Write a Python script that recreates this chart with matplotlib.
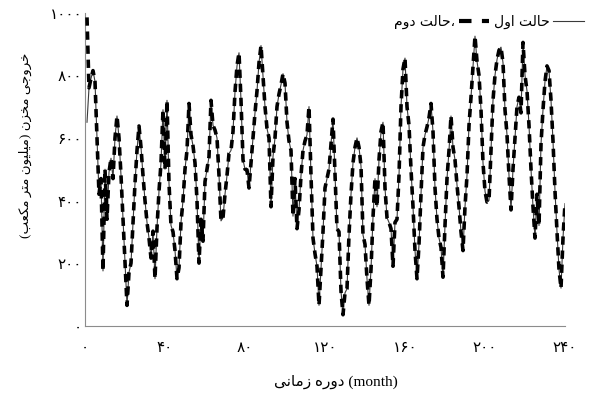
import matplotlib
matplotlib.use("Agg")
import matplotlib.pyplot as plt
import numpy as np
from matplotlib.lines import Line2D

plt.rcParams["font.family"] = ["DejaVu Sans"]

# monthly reservoir release (million m3), months 1..240
months = np.arange(1, 241)
case1 = [
    650, 760, 790, 815, 780, 600, 420, 470, 175, 500, 340, 490,
    535, 470, 600, 670, 600, 480, 340, 200, 65, 170, 200, 330,
    455, 560, 638, 570, 480, 400, 330, 280, 216, 302, 150, 313,
    430, 520, 690, 500, 720, 455, 320, 300, 240, 150, 185, 330,
    400, 500, 560, 710, 610, 575, 520, 400, 200, 340, 270, 460,
    500, 540, 720, 640, 625, 600, 480, 335, 345, 420, 480, 550,
    560, 620, 747, 830, 872, 720, 530, 500, 498, 440, 520, 600,
    680, 750, 840, 895, 800, 700, 630, 600, 380, 540, 600, 700,
    740, 770, 805, 775, 650, 590, 560, 350, 470, 310, 370, 480,
    560, 590, 610, 700, 480, 280, 230, 190, 65, 180, 300, 440,
    470, 500, 580, 660, 480, 310, 300, 110, 35, 105, 118, 290,
    420, 520, 570, 600, 570, 510, 290, 260, 150, 65, 180, 346,
    470, 380, 530, 620, 650, 440, 345, 330, 310, 190, 330, 340,
    480, 700, 820, 855, 700, 640, 500, 380, 240, 150, 260, 420,
    570, 610, 635, 665, 710, 620, 440, 340, 280, 250, 155, 320,
    470, 560, 670, 570, 530, 450, 380, 300, 240, 380, 480, 640,
    730, 830, 925, 845, 800, 690, 520, 430, 395, 400, 560, 720,
    800, 850, 880, 890, 840, 690, 610, 480, 370, 500, 600, 700,
    730, 680, 905, 800, 750, 640, 500, 380, 280, 420, 320, 580,
    690, 780, 830, 815, 720, 590, 430, 300, 180, 120, 280, 390,
]
# second case follows the first except for the opening month
case2 = list(case1)
case2[0] = 985

x_ticks = [0, 40, 80, 120, 160, 200, 240]
y_ticks = [0, 200, 400, 600, 800, 1000]

# contextual forms: isolated, final, initial, medial (None for right-joining letters)
FORMS = {
    "ا": ("\uFE8D", "\uFE8E", None, None),
    "ب": ("\uFE8F", "\uFE90", "\uFE91", "\uFE92"),
    "ت": ("\uFE95", "\uFE96", "\uFE97", "\uFE98"),
    "ج": ("\uFE9D", "\uFE9E", "\uFE9F", "\uFEA0"),
    "ح": ("\uFEA1", "\uFEA2", "\uFEA3", "\uFEA4"),
    "خ": ("\uFEA5", "\uFEA6", "\uFEA7", "\uFEA8"),
    "د": ("\uFEA9", "\uFEAA", None, None),
    "ر": ("\uFEAD", "\uFEAE", None, None),
    "ز": ("\uFEAF", "\uFEB0", None, None),
    "ع": ("\uFEC9", "\uFECA", "\uFECB", "\uFECC"),
    "ل": ("\uFEDD", "\uFEDE", "\uFEDF", "\uFEE0"),
    "م": ("\uFEE1", "\uFEE2", "\uFEE3", "\uFEE4"),
    "ن": ("\uFEE5", "\uFEE6", "\uFEE7", "\uFEE8"),
    "ه": ("\uFEE9", "\uFEEA", "\uFEEB", "\uFEEC"),
    "و": ("\uFEED", "\uFEEE", None, None),
    "ی": ("\uFBFC", "\uFBFD", "\uFBFE", "\uFBFF"),
    "ک": ("\uFB8E", "\uFB8F", "\uFB90", "\uFB91"),
}


def shape(text):
    out = []
    for i, ch in enumerate(text):
        forms = FORMS.get(ch)
        if forms is None:
            out.append(ch)
            continue
        prev = FORMS.get(text[i - 1]) if i > 0 else None
        nxt = FORMS.get(text[i + 1]) if i + 1 < len(text) else None
        join_prev = prev is not None and prev[2] is not None
        join_next = nxt is not None and forms[2] is not None
        if join_prev and join_next:
            out.append(forms[3])
        elif join_prev:
            out.append(forms[1])
        elif join_next:
            out.append(forms[2])
        else:
            out.append(forms[0])
    return "".join(out)


def rtl(text):
    mirror = {"(": ")", ")": "("}
    return "".join(mirror.get(c, c) for c in reversed(shape(text)))


def fa_digits(n):
    return str(n).translate(str.maketrans("0123456789", "۰۱۲۳۴۵۶۷۸۹"))


fig = plt.figure(figsize=(5.97, 4.01), dpi=100)
ax = fig.add_axes([85 / 597, 75.3 / 401, 480 / 597, 313 / 401])

ax.plot(months, case1, color="#3a3a3a", lw=0.8, zorder=2)
ax.plot(months, case2, color="black", lw=2.6, dashes=(2.3, 1.6), zorder=3)

ax.set_xlim(0, 240)
ax.set_ylim(0, 1000)
ax.set_xticks(x_ticks)
ax.set_xticklabels([fa_digits(v) for v in x_ticks])
ax.set_yticks(y_ticks)
ax.set_yticklabels([fa_digits(v) for v in y_ticks])
ax.tick_params(axis="both", length=0, labelsize=11)
ax.tick_params(axis="x", pad=10)
ax.tick_params(axis="y", pad=2)

for side in ("top", "right"):
    ax.spines[side].set_visible(False)
for side in ("left", "bottom"):
    ax.spines[side].set_color("#8c8c8c")
    ax.spines[side].set_linewidth(0.8)

serif_mix = ["Liberation Serif", "DejaVu Sans"]
fig.text(25 / 597, 1 - 145 / 401, rtl("خروجی مخزن (میلیون متر مکعب)"),
         rotation=90, ha="center", va="center", fontsize=9.5, family=serif_mix)
fig.text(336 / 597, 1 - 382 / 401, rtl("دوره زمانی") + " (month)",
         ha="center", va="center", fontsize=11, family=serif_mix)

dash_handle = Line2D([], [], color="black", lw=3, dashes=(3, 2.5))
solid_handle = Line2D([], [], color="#3a3a3a", lw=0.8)
ax.legend([dash_handle, solid_handle],
          [rtl("حالت دوم") + "،", rtl("حالت اول")],
          ncol=2, markerfirst=False, frameon=False, fontsize=10,
          loc="center right", bbox_to_anchor=(584 / 597, 1 - 22 / 401),
          bbox_transform=fig.transFigure, borderpad=0, borderaxespad=0,
          handlelength=2.2, handletextpad=0.3, columnspacing=0.3)

fig.savefig("out.png", dpi=100)
